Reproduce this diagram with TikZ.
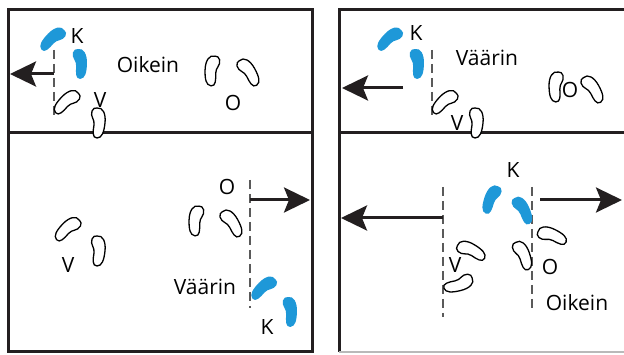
\documentclass[tikz,border=0pt]{standalone}
\usepackage{fontspec}
\setmainfont{Open Sans}
\usetikzlibrary{arrows.meta}
\definecolor{kblue}{RGB}{30,152,216}
\definecolor{framecol}{RGB}{35,31,32}
\definecolor{dashcol}{RGB}{90,90,90}
\begin{document}
\begin{tikzpicture}[x=1pt,y=-1pt,
  panel/.style={draw=framecol, line width=3pt},
  guide/.style={draw=dashcol, line width=1.3pt, dash pattern=on 9pt off 5pt},
  walkarrow/.style={draw=framecol, line width=3pt,
    -{Stealth[length=26pt,width=25pt,inset=5pt]}},
  lbl/.style={font=\fontsize{21}{24}\selectfont, inner sep=1pt},
  printfoot/.style={draw=black, line width=1.3pt, fill=white},
  bluefoot/.style={fill=kblue, draw=none},
  foot/.pic={
    \path[pic actions] (0,-15) .. controls (6,-16) and (9,-9) .. (8,0)
      .. controls (7,9) and (5,15) .. (0,15)
      .. controls (-5,15) and (-4,8) .. (-3,2)
      .. controls (-2,-4) and (-7,-6) .. (-5,-12)
      .. controls (-4,-15) and (-2,-15) .. (0,-15) -- cycle;
  }]
\useasboundingbox[fill=white] (0,0) rectangle (624,355);

% ---- frames ----
\draw[panel] (8,10) rectangle (312,352);
\draw[panel] (8,133) -- (312,133);
\draw[panel] (624,10) -- (339,10) -- (339,352);
\draw[panel] (339,133) -- (624,133);
\draw[gray!55, line width=1.5pt] (339,352) -- (624,352);

% ---- guide lines and arrow anchors ----
\coordinate (g1t) at (54,50);   \coordinate (g1b) at (54,117);
\coordinate (a1s) at (54,74);   \coordinate (a1e) at (10,74);
\coordinate (g2t) at (432,50);  \coordinate (g2b) at (432,117);
\coordinate (a2s) at (403,88);  \coordinate (a2e) at (342,88);
\coordinate (g3t) at (250,180); \coordinate (g3b) at (250,308);
\coordinate (a3s) at (250,200); \coordinate (a3e) at (310,200);
\coordinate (g4t) at (443,187); \coordinate (g4b) at (443,317);
\coordinate (a4s) at (443,218); \coordinate (a4e) at (341,218);
\coordinate (g5t) at (532,187); \coordinate (g5b) at (532,308);
\coordinate (a5s) at (540,200); \coordinate (a5e) at (622,200);

\draw[guide] (g1t) -- (g1b);
\draw[guide] (g2t) -- (g2b);
\draw[guide] (g3t) -- (g3b);
\draw[guide] (g4t) -- (g4b);
\draw[guide] (g5t) -- (g5b);

\draw[walkarrow] (a1s) -- (a1e);
\draw[walkarrow] (a2s) -- (a2e);
\draw[walkarrow] (a3s) -- (a3e);
\draw[walkarrow] (a4s) -- (a4e);
\draw[walkarrow] (a5s) -- (a5e);

% ---- top left ----
\pic (tlk1) [bluefoot, xscale=-1, rotate=50] at (53,40) {foot};
\pic (tlk2) [bluefoot, rotate=5] at (79,64) {foot};
\pic (tlv1) [printfoot, xscale=-1, rotate=50] at (67,103) {foot};
\pic (tlv2) [printfoot, rotate=0] at (97,123) {foot};
\pic (tlo1) [printfoot, xscale=-1, rotate=8] at (213,71) {foot};
\pic (tlo2) [printfoot, rotate=35] at (248,73) {foot};
\node[lbl] (tlK) at (77,36) {K};
\node[lbl] (tlOk) at (148,65) {Oikein};
\node[lbl] (tlV) at (100,100) {V};
\node[lbl] (tlO) at (233,103) {O};

% ---- top right ----
\pic (trk1) [bluefoot, xscale=-1, rotate=50] at (390,40) {foot};
\pic (trk2) [bluefoot, rotate=5] at (416,64) {foot};
\pic (trv1) [printfoot, xscale=-1, rotate=50] at (445,103) {foot};
\pic (trv2) [printfoot, rotate=0] at (475,123) {foot};
\pic (tro1) [printfoot, xscale=-1, rotate=5] at (557,87) {foot};
\pic (tro2) [printfoot, rotate=35] at (592,90) {foot};
\node[lbl] (trK) at (416,33) {K};
\node[lbl] (trWr) at (487,58) {Väärin};
\node[lbl, fill=white] (trV) at (457,123) {V};
\node[lbl] (trO) at (570,90) {O};

% ---- bottom left ----
\pic (blo1) [printfoot, xscale=-1, rotate=8] at (197,221) {foot};
\pic (blo2) [printfoot, rotate=35] at (231,224) {foot};
\pic (blv1) [printfoot, xscale=-1, rotate=50] at (68,230) {foot};
\pic (blv2) [printfoot, rotate=0] at (97,251) {foot};
\pic (blk1) [bluefoot, xscale=-1, rotate=50] at (264,289) {foot};
\pic (blk2) [bluefoot, rotate=5] at (289,312) {foot};
\node[lbl] (blO) at (227,187) {O};
\node[lbl] (blV) at (68,265) {V};
\node[lbl] (blWr) at (205,287) {Väärin};
\node[lbl] (blK) at (267,327) {K};

% ---- bottom right ----
\pic (brk1) [bluefoot, xscale=-1, rotate=25] at (492,200) {foot};
\pic (brk2) [bluefoot, rotate=30] at (522,211) {foot};
\pic (brv1) [printfoot, rotate=65] at (471,252) {foot};
\pic (brv2) [printfoot, rotate=-70] at (458,283) {foot};
\pic (bro1) [printfoot, rotate=25] at (522,256) {foot};
\pic (bro2) [printfoot, rotate=70] at (552,237) {foot};
\node[lbl] (brK) at (513,170) {K};
\node[lbl, fill=white] (brV) at (455,265) {V};
\node[lbl] (brO) at (550,267) {O};
\node[lbl] (brOk) at (577,303) {Oikein};
\end{tikzpicture}
\end{document}
